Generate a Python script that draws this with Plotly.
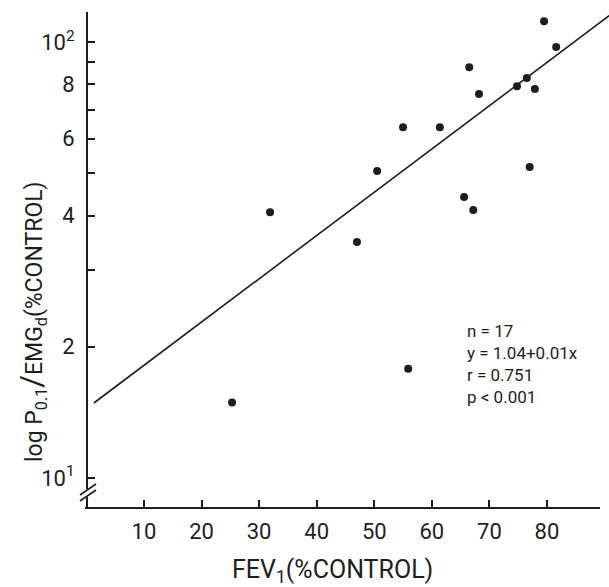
import numpy as np
import plotly.graph_objects as go

# Data
fev1 = [25.3, 31.9, 47.0, 50.5, 55.0, 61.4, 65.6, 67.2, 66.5, 68.2, 74.8, 76.5, 77.9, 77.0, 79.5, 81.6, 55.9]
ratio = [14.9, 40.7, 34.8, 50.6, 63.8, 63.8, 44.1, 41.2, 87.6, 76.0, 79.2, 82.7, 78.0, 51.7, 111.7, 97.4, 17.8]

# Regression line as drawn (log10 y = b0 + b1 x)
fit_b0 = 1.159
fit_b1 = 0.00993
fit_x = [1.3, 91.0]

x_ticks = [10, 20, 30, 40, 50, 60, 70, 80]
y_ticks = [10, 20, 40, 60, 80, 100]
y_ticktext = ["10<sup>1</sup>", "2", "4", "6", "8", "10<sup>2</sup>"]
y_minor_ticks = [30, 50, 70, 90]

stats_text = "n = 17<br>y = 1.04+0.01x<br>r = 0.751<br>p < 0.001"

FONT = "Roboto, Liberation Sans, sans-serif"
INK = "#1e1e1e"

W, H = 609, 587
L, R, T, B = 88, 0, 12, 79
pw, ph = W - L - R, H - T - B

fit_y = [10 ** (fit_b0 + fit_b1 * xv) for xv in fit_x]

fig = go.Figure()
fig.add_trace(go.Scatter(x=fit_x, y=fit_y, mode="lines",
                         line=dict(color=INK, width=1.6), hoverinfo="skip"))
fig.add_trace(go.Scatter(x=fev1, y=ratio, mode="markers",
                         marker=dict(color=INK, size=8)))

def px2px(xp):
    return (xp - L) / pw

def py2py(yp):
    return (T + ph - yp) / ph

shapes = [
    # x axis line
    dict(type="line", xref="paper", yref="paper", x0=px2px(85), x1=px2px(600),
         y0=0, y1=0, line=dict(color=INK, width=2)),
    # gap in y axis for break
    dict(type="rect", xref="paper", yref="paper", x0=px2px(85), x1=px2px(92),
         y0=py2py(497), y1=py2py(489), fillcolor="white", line=dict(width=0)),
    # break marks
    dict(type="line", xref="paper", yref="paper", x0=px2px(80), x1=px2px(96),
         y0=py2py(495), y1=py2py(484), line=dict(color=INK, width=1.6)),
    dict(type="line", xref="paper", yref="paper", x0=px2px(80), x1=px2px(96),
         y0=py2py(501), y1=py2py(490), line=dict(color=INK, width=1.6)),
]

annotations = [
    dict(text="FEV<sub>1</sub>(%CONTROL)", xref="paper", yref="paper",
         x=px2px(332), y=py2py(571), xanchor="center", yanchor="middle",
         showarrow=False, font=dict(family=FONT, size=25, color=INK)),
    dict(text="log P<sub>0.1</sub><span style='font-size:31px'>/</span>EMG<sub>d</sub>(%CONTROL)",
         xref="paper", yref="paper", textangle=-90,
         x=px2px(32), y=py2py(322), xanchor="center", yanchor="middle",
         showarrow=False, font=dict(family=FONT, size=23, color=INK)),
    dict(text=stats_text, xref="paper", yref="paper",
         x=px2px(465), y=py2py(364), xanchor="left", yanchor="middle", align="left",
         showarrow=False, font=dict(family=FONT, size=17, color=INK)),
]

fig.update_layout(
    width=W, height=H,
    margin=dict(l=L, r=R, t=T, b=B, pad=0),
    paper_bgcolor="white", plot_bgcolor="white",
    showlegend=False,
    shapes=shapes, annotations=annotations,
    xaxis=dict(range=[(L - 86.4) / 5.757, (L - 86.4) / 5.757 + pw / 5.757],
               tickmode="array", tickvals=x_ticks,
               ticks="inside", ticklen=8, tickwidth=2, tickcolor=INK,
               showline=False, showgrid=False, zeroline=False,
               ticklabelstandoff=8,
               tickfont=dict(family=FONT, size=22, color=INK)),
    yaxis=dict(type="log", range=[0.931, 2.069],
               tickmode="array", tickvals=y_ticks, ticktext=y_ticktext,
               ticks="inside", ticklen=7, tickwidth=2, tickcolor=INK,
               minor=dict(tickmode="array", tickvals=y_minor_ticks, ticks="inside",
                          ticklen=7, tickwidth=2, tickcolor=INK, showgrid=False),
               showline=True, linecolor=INK, linewidth=2,
               showgrid=False, zeroline=False,
               ticklabelstandoff=7,
               tickfont=dict(family=FONT, size=22, color=INK)),
)

fig.write_html("out.html", config={"displayModeBar": False},
               post_script="document.body.style.margin='0px';")
